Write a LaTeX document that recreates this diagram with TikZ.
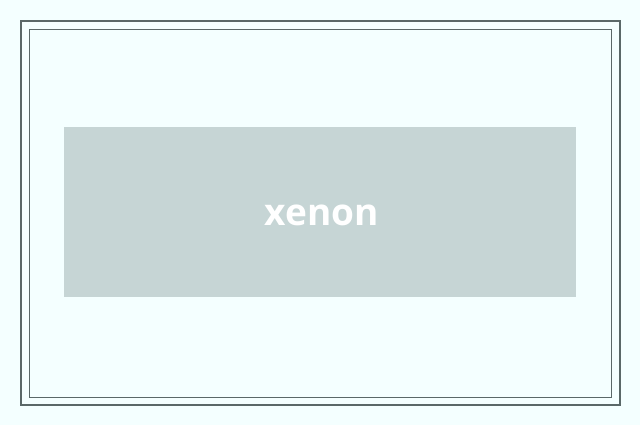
\documentclass[tikz,border=0pt]{standalone}
\usepackage{fontspec}
\setmainfont{Open Sans}
\definecolor{bg}{HTML}{F4FFFF}
\definecolor{frame}{HTML}{5A6868}
\definecolor{box}{HTML}{C6D5D5}
\begin{document}
\begin{tikzpicture}[x=1pt,y=-1pt]
\fill[bg] (0,0) rectangle (640,425);
\useasboundingbox (0,0) rectangle (640,425);
\draw[frame,line width=1.6pt] (21,21) rectangle (620,405);
\draw[frame,line width=0.8pt] (29,29) rectangle (611,397);
\fill[box] (64,127) rectangle (576,297);
\node[text=white,font=\fontsize{37}{44}\selectfont\bfseries] (t) at (322,215) {xenon};
\end{tikzpicture}
\end{document}
